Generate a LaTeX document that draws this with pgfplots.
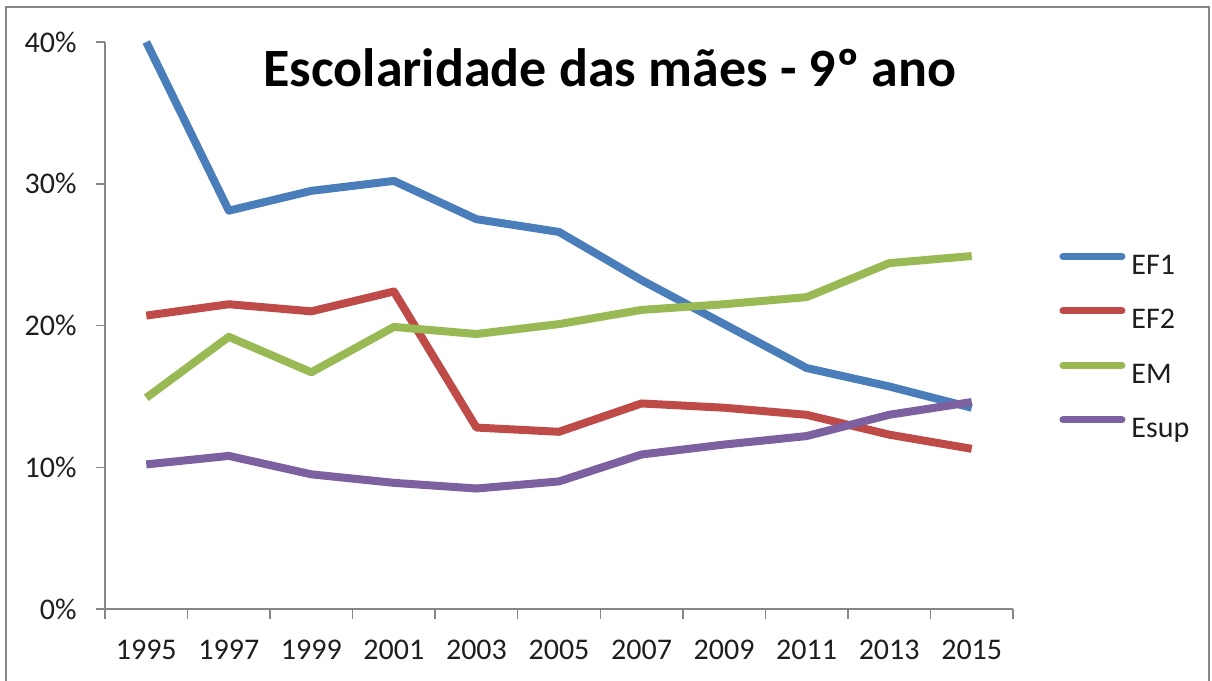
\documentclass[border=0pt]{standalone}
\usepackage{pgfplots}
\pgfplotsset{compat=1.18}
\usepackage{fontspec}
\setmainfont{Carlito}
\definecolor{cEFa}{RGB}{74,126,187}
\definecolor{cEFb}{RGB}{190,75,72}
\definecolor{cEM}{RGB}{152,185,84}
\definecolor{cES}{RGB}{125,96,160}
\definecolor{frame}{RGB}{134,134,134}
\definecolor{txt}{RGB}{30,30,30}
\begin{document}
\begin{tikzpicture}
\path[use as bounding box] (0,0) rectangle (606pt,340.5pt);
\draw[frame, line width=1pt] (3pt,-5pt) rectangle (604.5pt,337pt);
\begin{axis}[
  at={(52.5pt,36pt)}, anchor=south west,
  scale only axis, width=454pt, height=283.5pt,
  xmin=-0.5, xmax=10.5, ymin=0, ymax=40,
  clip=false,
  axis x line*=bottom, axis y line*=left,
  axis line style={-, frame, line width=0.75pt},
  tick align=outside,
  xtick={0,...,10},
  xticklabels={1995,1997,1999,2001,2003,2005,2007,2009,2011,2013,2015},
  minor xtick={-0.5,0.5,...,10.5},
  major x tick style={draw=none},
  minor tick length=5pt,
  major tick length=4.5pt,
  tick style={frame, line width=0.75pt},
  ytick={0,10,20,30,40},
  yticklabels={0\%,10\%,20\%,30\%,40\%},
  tick label style={font=\fontsize{15}{18}\selectfont, text=txt},
  xticklabel style={anchor=north, inner sep=0pt, yshift=-11pt},
  yticklabel style={anchor=east, inner sep=0pt, xshift=-9.5pt},
  every axis plot/.append style={line width=4pt, line join=round},
  legend cell align=left,
  legend image code/.code={\draw[line width=3.5pt, line cap=round] (0pt,5pt) -- (29.5pt,5pt);},
  legend style={draw=none, fill=none, inner sep=0pt,
    at={(1.0507,0.6296)}, anchor=north west,
    font=\fontsize{15}{18}\selectfont, text=txt,
    nodes={inner sep=0pt, text height=11pt, text depth=3pt},
    row sep=13.25pt,
    /tikz/every odd column/.append style={column sep=3pt}},
]
\addplot[cEFa] coordinates {(0,40) (1,28.1) (2,29.5) (3,30.2) (4,27.5) (5,26.6) (6,23.2) (7,20.1) (8,17.0) (9,15.7) (10,14.2)};
\addlegendentry{EF1}
\addplot[cEFb] coordinates {(0,20.7) (1,21.5) (2,21.0) (3,22.4) (4,12.8) (5,12.5) (6,14.5) (7,14.2) (8,13.7) (9,12.3) (10,11.3)};
\addlegendentry{EF2}
\addplot[cEM] coordinates {(0,14.9) (1,19.2) (2,16.7) (3,19.9) (4,19.4) (5,20.1) (6,21.1) (7,21.5) (8,22.0) (9,24.4) (10,24.9)};
\addlegendentry{EM}
\addplot[cES] coordinates {(0,10.2) (1,10.8) (2,9.5) (3,8.9) (4,8.5) (5,9.0) (6,10.9) (7,11.6) (8,12.2) (9,13.7) (10,14.6)};
\addlegendentry{Esup}
\end{axis}
\node[font=\fontsize{27}{32}\selectfont\bfseries, text=black] at (305pt,306.5pt) {Escolaridade das mães - 9º ano};
\end{tikzpicture}
\end{document}
